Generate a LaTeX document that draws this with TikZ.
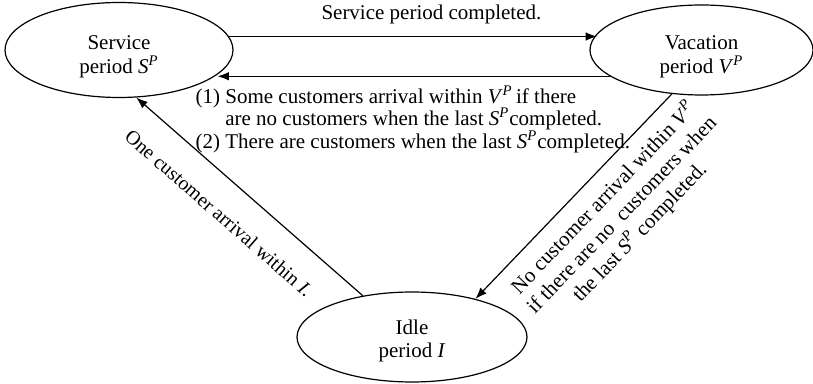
\documentclass[tikz,border=0pt]{standalone}
\usepackage{fontspec}
\setmainfont{Liberation Serif}
\usepackage{tikz}
\usetikzlibrary{arrows.meta, positioning, shapes.geometric}

\newcommand{\perP}[1]{\textit{#1}\textsuperscript{\textit{P}}}

\begin{document}
\begin{tikzpicture}[>=Latex, x=0.5pt, y=-0.5pt, line width=0.6pt, font=\fontsize{10.5}{11.25}\selectfont,
		phase/.style={draw, ellipse, inner sep=0pt, align=center, font=\fontsize{10.5}{11.75}\selectfont}]
		\useasboundingbox (0,0) rectangle (813,384);
		\node[phase, minimum width=114pt, minimum height=47.5pt] (service) at (119,50) {\rule{0pt}{13.5pt}Service\\period \perP{S}};
		\node[phase, minimum width=111.5pt, minimum height=45pt] (vacation) at (701.5,50) {\rule{0pt}{13.5pt}Vacation\\period \perP{V}};
		\node[phase, minimum width=115pt, minimum height=45pt] (idle) at (412,337) {\rule{0pt}{11pt}Idle\\period \textit{I}};
		\draw[->] (service.7.9) -- node[pos=0.55, above=6pt, inner sep=0pt] (done) {Service period completed.} (service.7.9 -| vacation.171.9);
		\draw[->] (vacation.-164.9) -- (vacation.-164.9 -| service.-14.5);
		\node[anchor=north west, inner sep=0pt, align=left] (back) at (195,85) {(1) Some customers arrival within \perP{V}\,if there\\\hphantom{(1) }are no customers when the last \perP{S}completed.\\(2) There are customers when the last \perP{S}completed.};
		\draw[->] (idle.140) -- node[pos=0.54, sloped, below=12.5pt, inner sep=0pt, font=\fontsize{10}{11}\selectfont] (arrive) {One customer arrival within \textit{I}.} (service.-70.4);
		\draw[->] (vacation.-124.2) -- node[pos=0.43, sloped, below=5.5pt, inner sep=0pt, align=center, font=\fontsize{10.5}{12.4}\selectfont] (noarrive) {No customer arrival within \perP{V}\\if there are no\ \ customers when\\the last \perP{S} completed.} (idle.31.8);
	\end{tikzpicture}
\end{document}
